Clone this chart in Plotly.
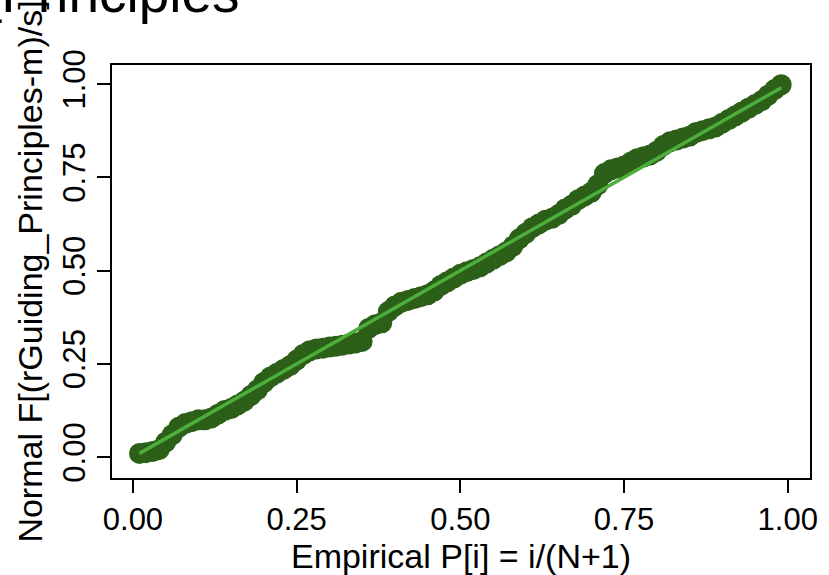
import plotly.graph_objects as go

# Empirical P[i] = i/(N+1), N = 99
emp_p = [round(i / 100, 2) for i in range(1, 100)]

normal_f = [
    0.010, 0.012, 0.015, 0.020, 0.040, 0.060, 0.080, 0.090, 0.095, 0.100,
    0.100, 0.105, 0.115, 0.125, 0.130, 0.140, 0.150, 0.165, 0.180, 0.200,
    0.215, 0.225, 0.235, 0.245, 0.260, 0.275, 0.285, 0.290, 0.292, 0.295,
    0.297, 0.300, 0.303, 0.306, 0.310, 0.345, 0.355, 0.360, 0.390, 0.405,
    0.415, 0.420, 0.425, 0.430, 0.435, 0.445, 0.460, 0.470, 0.480, 0.490,
    0.497, 0.503, 0.510, 0.520, 0.530, 0.540, 0.550, 0.565, 0.585, 0.600,
    0.615, 0.625, 0.635, 0.640, 0.650, 0.665, 0.675, 0.690, 0.700, 0.710,
    0.730, 0.760, 0.770, 0.775, 0.780, 0.790, 0.800, 0.805, 0.810, 0.820,
    0.835, 0.845, 0.850, 0.855, 0.860, 0.870, 0.875, 0.880, 0.885, 0.895,
    0.905, 0.915, 0.925, 0.935, 0.945, 0.955, 0.970, 0.985, 0.998,
]

tick_vals = [0, 0.25, 0.5, 0.75, 1.0]
tick_text = ["0.00", "0.25", "0.50", "0.75", "1.00"]

FONT = "Liberation Sans, Arial, Helvetica, sans-serif"
DOT = "#2c5f18"
LINE = "#4caf3c"

fig = go.Figure()
fig.add_trace(go.Scatter(
    x=emp_p, y=normal_f, mode="markers",
    marker=dict(size=21, color=DOT, line=dict(width=0)),
    showlegend=False, hoverinfo="skip",
))
fig.add_trace(go.Scatter(
    x=[emp_p[0], emp_p[-1]], y=[emp_p[0], emp_p[-1]], mode="lines",
    line=dict(color=LINE, width=3.5),
    showlegend=False, hoverinfo="skip",
))

axis_common = dict(
    showgrid=False, zeroline=False,
    showline=True, linecolor="black", linewidth=2, mirror=True,
    ticks="outside", ticklen=13, tickwidth=2, tickcolor="black",
    tickvals=tick_vals, ticktext=tick_text,
    tickfont=dict(family=FONT, size=31, color="black"),
)

fig.update_layout(
    width=829, height=575,
    margin=dict(l=112, r=19, t=65, b=97),
    paper_bgcolor="white", plot_bgcolor="white",
    font=dict(family=FONT, color="black"),
    xaxis=dict(
        range=[-0.032, 1.034],
        title=dict(text="Empirical P[i] = i/(N+1)", font=dict(family=FONT, size=34), standoff=0),
        **axis_common,
    ),
    yaxis=dict(
        range=[-0.056, 1.051],
        tickangle=-90,
        title=dict(text="Normal F[(rGuiding_Principles-m)/s]", font=dict(family=FONT, size=34), standoff=4),
        **axis_common,
    ),
    annotations=[dict(
        text="Guiding_Principles", xref="paper", yref="paper",
        x=(242 - 112) / 698, y=(478 - 26) / 413,
        xanchor="right", yanchor="bottom", showarrow=False,
        font=dict(family=FONT, size=55, color="black"),
    )],
)

fig.write_html("out.html")
